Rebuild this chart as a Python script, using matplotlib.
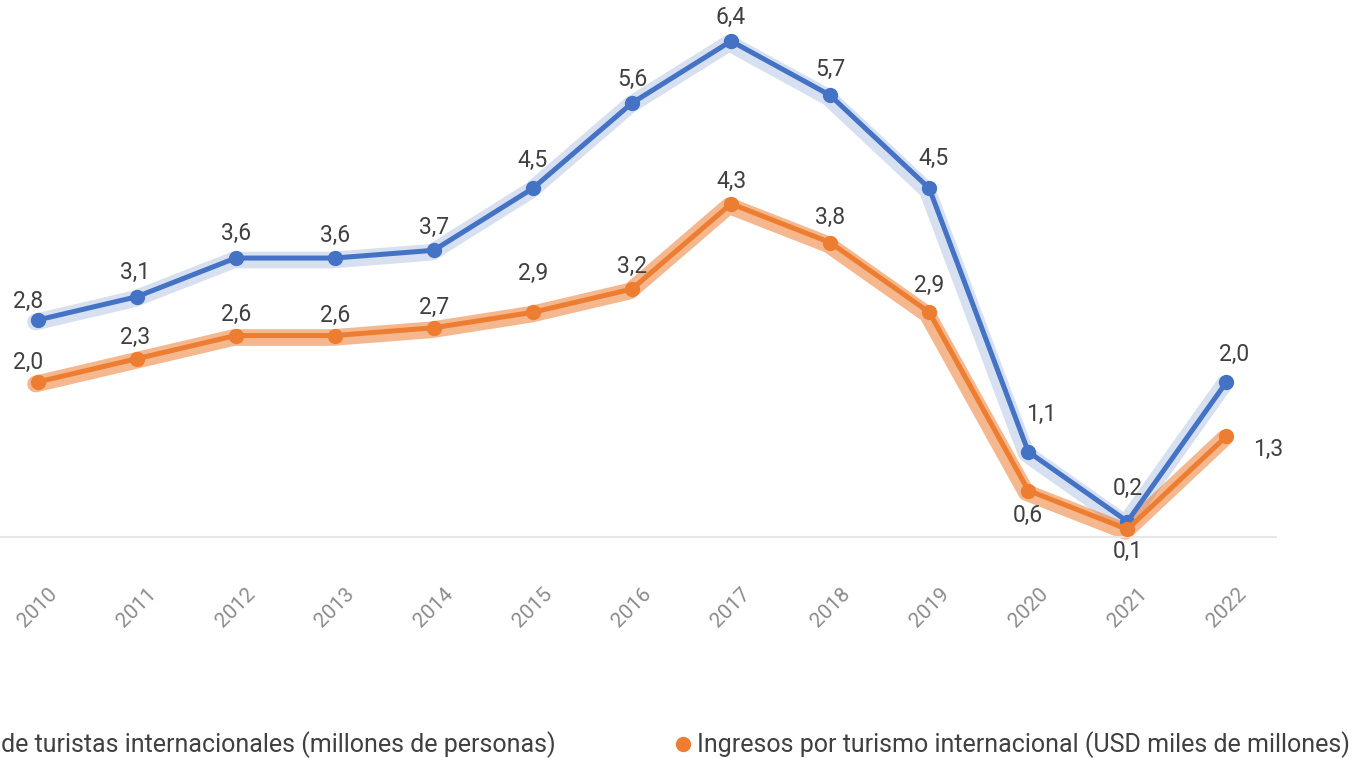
import matplotlib
matplotlib.use("Agg")
import matplotlib.pyplot as plt
from matplotlib.transforms import offset_copy

plt.rcParams['font.family'] = ['Roboto', 'DejaVu Sans']

years = [2010, 2011, 2012, 2013, 2014, 2015, 2016, 2017, 2018, 2019, 2020, 2021, 2022]
llegadas = [2.8, 3.1, 3.6, 3.6, 3.7, 4.5, 5.6, 6.4, 5.7, 4.5, 1.1, 0.2, 2.0]
ingresos = [2.0, 2.3, 2.6, 2.6, 2.7, 2.9, 3.2, 4.3, 3.8, 2.9, 0.6, 0.1, 1.3]
series_names = ["Llegada de turistas internacionales (millones de personas)",
                "Ingresos por turismo internacional (USD miles de millones)"]

# label offsets in pixels (dx, dy) for each point
off_blue = [(-9, 19), (-2, 24), (0, 25), (0, 23), (0, 23), (0, 28), (0, 24),
            (0, 24), (0, 26), (4, 30), (13, 37), (0, 33), (8, 28)]
off_orange = [(-9, 20), (-2, 21), (0, 21), (0, 20), (0, 20), (0, 39), (0, 23),
              (0, 22), (0, 25), (0, 27), (0, -25), (0, -22), (42, -13)]

W, H = 1355, 758
fig = plt.figure(figsize=(W / 100, H / 100), dpi=100)
ax = fig.add_axes([-12 / W, (H - 537) / H, 1288 / W, 537 / H])

x = list(range(len(years)))
ax.set_xlim(-0.5, len(years) - 0.5)
ax.set_ylim(0, 6.93)

blue = '#4472C4'
orange = '#ED7D31'
glow = offset_copy(ax.transData, fig=fig, x=-2, y=-2, units='dots')

ax.plot(x, llegadas, color='#d6e0f1', lw=12, solid_capstyle='round',
        solid_joinstyle='round', transform=glow, clip_on=False, zorder=1)
ax.plot(x, ingresos, color=orange, lw=12, alpha=0.55, solid_capstyle='round',
        solid_joinstyle='round', transform=glow, clip_on=False, zorder=2)
l1, = ax.plot(x, llegadas, color=blue, lw=3.6, marker='o', ms=10, clip_on=False,
              zorder=3, label=series_names[0])
l2, = ax.plot(x, ingresos, color=orange, lw=3.6, marker='o', ms=10, clip_on=False,
              zorder=3, label=series_names[1])

for i in x:
    ax.annotate(f"{llegadas[i]:.1f}".replace('.', ','), (i, llegadas[i]),
                xytext=off_blue[i], textcoords='offset pixels', ha='center',
                va='center', fontsize=16.5, color='#404040', zorder=5,
                annotation_clip=False)
    ax.annotate(f"{ingresos[i]:.1f}".replace('.', ','), (i, ingresos[i]),
                xytext=off_orange[i], textcoords='offset pixels', ha='center',
                va='center', fontsize=16.5, color='#404040', zorder=5,
                annotation_clip=False)

for s in ['top', 'right', 'left']:
    ax.spines[s].set_visible(False)
ax.spines['bottom'].set_color('#e6e6e6')
ax.spines['bottom'].set_linewidth(1.5)
ax.set_yticks([])
ax.set_xticks(x)
ax.set_xticklabels([str(y) for y in years], rotation=45, ha='center',
                   fontsize=15, color='#8c8c8c')
ax.tick_params(axis='x', length=0, pad=34)

fig.legend(handles=[l1, l2], loc='center right', bbox_to_anchor=(1350 / W, 1 - 745 / H),
           ncol=2, frameon=False, fontsize=18, handlelength=0, handletextpad=0.55,
           columnspacing=5.1, labelcolor='#404040', borderaxespad=0, borderpad=0)
for h in fig.legends[0].legend_handles:
    h.set_linestyle('none')

fig.savefig('out.png', dpi=100)
